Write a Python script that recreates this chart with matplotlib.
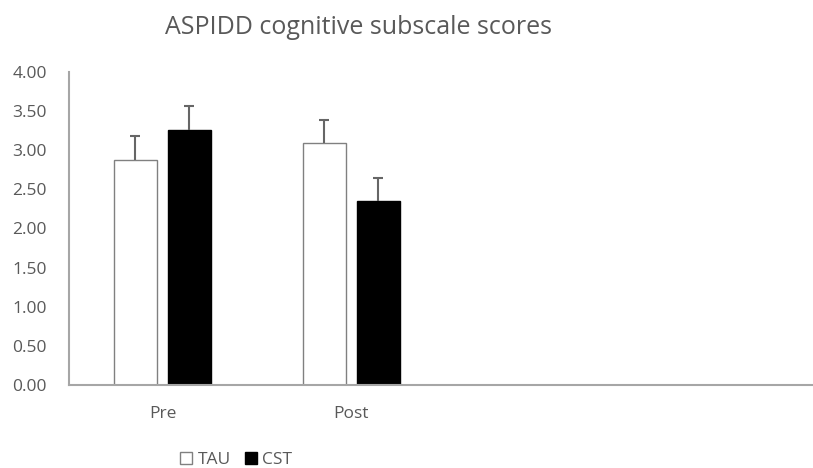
import matplotlib.pyplot as plt
import numpy as np

categories = ['Pre', 'Post']
tau = [2.87, 3.09]
cst = [3.26, 2.35]
tau_err = [0.31, 0.30]
cst_err = [0.31, 0.30]

plt.rcParams['font.family'] = ['Open Sans', 'DejaVu Sans']
grey = '#595959'
axis_grey = '#a6a6a6'

fig = plt.figure(figsize=(8.13, 4.68), dpi=100)
ax = fig.add_axes([69 / 813, 83 / 468, 743 / 813, 313 / 468])

x = np.arange(len(categories))
w = 0.225
off = 0.143
ax.bar(x - off, tau, w, color='white', edgecolor='#808080', linewidth=1,
       label='TAU')
ax.bar(x + off, cst, w, color='black', edgecolor='black', linewidth=1,
       label='CST')

# upper-only error bars
for xs, ys, es in [(x - off, tau, tau_err), (x + off, cst, cst_err)]:
    ys = np.array(ys)
    es = np.array(es)
    ax.vlines(xs, ys, ys + es, color='#666666', linewidth=1.5)
    ax.scatter(xs, ys + es, marker='_', s=60, color='#666666',
               linewidths=1.5, zorder=3)

ax.set_xlim(-0.495, 3.44)
ax.set_ylim(0, 4)
ticks = np.arange(0, 4.01, 0.5)
ax.set_yticks(ticks)
ax.set_yticklabels([f'{v:.2f}' for v in ticks])
ax.set_xticks(x)
ax.set_xticklabels(categories)
ax.tick_params(length=0, colors=grey, labelsize=12.5)
ax.tick_params(axis='x', pad=15)
ax.tick_params(axis='y', pad=16)
for s in ['top', 'right']:
    ax.spines[s].set_visible(False)
for s in ['left', 'bottom']:
    ax.spines[s].set_color(axis_grey)
    ax.spines[s].set_linewidth(1.5)

fig.text(358 / 813, 1 - 28 / 468, 'ASPIDD cognitive subscale scores',
         ha='center', va='center', fontsize=18, color=grey)

leg = fig.legend(loc='center', bbox_to_anchor=(236 / 813, 1 - 460 / 468),
                 ncol=2, frameon=False, fontsize=12.5, handlelength=0.7,
                 handleheight=0.7, handletextpad=0.3, columnspacing=0.8)
for t in leg.get_texts():
    t.set_color(grey)

plt.savefig('out.png')
